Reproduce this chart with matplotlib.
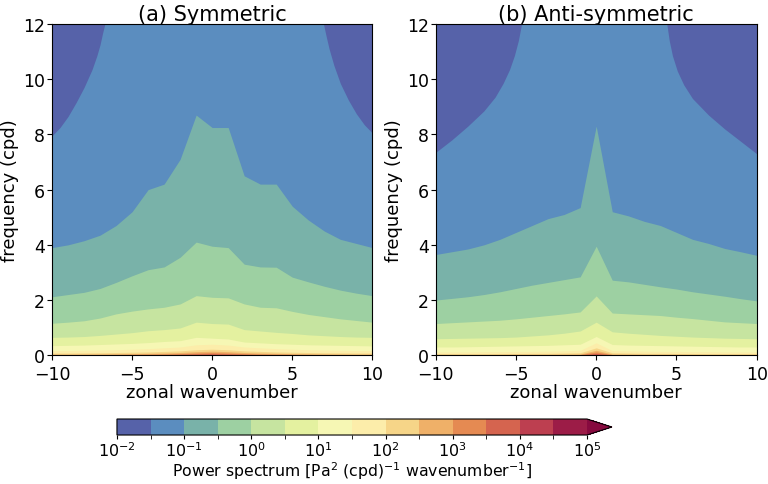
import numpy as np
import matplotlib
matplotlib.use('Agg')
import matplotlib.pyplot as plt
from matplotlib.colors import BoundaryNorm, ListedColormap
from matplotlib.cm import ScalarMappable

# contour levels: half decades from 1e-2 to 1e5
exponents = np.arange(-2, 5.01, 0.5)
levels = 10.0 ** exponents
wavenumber = np.arange(-10, 11)

# frequency (cpd) where the power crosses each level, read at integer wavenumbers
# (a) symmetric
sym_m10 = [3.9, 4.0, 4.15, 4.35, 4.7, 5.2, 6.0, 6.2, 7.1, 8.7, 8.25, 8.25, 6.5, 6.2, 6.2, 5.4, 4.9, 4.5, 4.2, 4.05, 3.9]
sym_m05 = [2.12, 2.2, 2.28, 2.42, 2.64, 2.88, 3.1, 3.2, 3.55, 4.1, 3.95, 3.9, 3.3, 3.2, 3.19, 2.83, 2.66, 2.5, 2.36, 2.25, 2.16]
sym_p00 = [1.16, 1.2, 1.25, 1.35, 1.5, 1.6, 1.68, 1.74, 1.86, 2.16, 2.1, 2.08, 1.86, 1.74, 1.72, 1.59, 1.48, 1.4, 1.32, 1.26, 1.2]
sym_p05 = [0.65, 0.66, 0.68, 0.72, 0.77, 0.82, 0.89, 0.93, 0.99, 1.2, 1.15, 1.13, 0.93, 0.88, 0.83, 0.79, 0.74, 0.71, 0.68, 0.66, 0.65]
sym_p10 = [0.35, 0.36, 0.37, 0.39, 0.41, 0.43, 0.46, 0.5, 0.53, 0.65, 0.62, 0.59, 0.48, 0.45, 0.42, 0.4, 0.38, 0.37, 0.36, 0.35, 0.34]
sym_p15 = [0.17, 0.17, 0.18, 0.19, 0.2, 0.22, 0.24, 0.27, 0.3, 0.38, 0.4, 0.37, 0.3, 0.27, 0.24, 0.22, 0.2, 0.19, 0.18, 0.17, 0.17]
sym_p20 = [0.08, 0.08, 0.085, 0.09, 0.1, 0.11, 0.12, 0.14, 0.16, 0.2, 0.22, 0.2, 0.16, 0.14, 0.12, 0.11, 0.1, 0.09, 0.085, 0.08, 0.08]
sym_p25 = [0.04, 0.04, 0.045, 0.05, 0.055, 0.06, 0.07, 0.08, 0.1, 0.13, 0.15, 0.13, 0.1, 0.08, 0.07, 0.06, 0.055, 0.05, 0.045, 0.04, 0.04]
sym_p30 = [0.02, 0.02, 0.02, 0.025, 0.03, 0.035, 0.04, 0.05, 0.06, 0.08, 0.1, 0.08, 0.06, 0.05, 0.04, 0.035, 0.03, 0.025, 0.02, 0.02, 0.02]
sym_p35 = [0, 0, 0, 0, 0.01, 0.015, 0.02, 0.025, 0.035, 0.05, 0.06, 0.05, 0.035, 0.025, 0.02, 0.015, 0.01, 0, 0, 0, 0]
sym_p40 = [0, 0, 0, 0, 0, 0, 0, 0, 0.01, 0.02, 0.03, 0.02, 0.01, 0, 0, 0, 0, 0, 0, 0, 0]
# 1e-1.5 contour in the top corners
sym_left_k = [-10, -9.5, -9, -8.5, -8, -7.5, -7.2, -7, -6.85, -6.7]
sym_left_f = [7.95, 8.25, 8.65, 9.15, 9.7, 10.35, 10.85, 11.25, 11.65, 12]
sym_right_k = [6.95, 7.1, 7.3, 7.6, 8.0, 8.5, 9.0, 9.5, 10]
sym_right_f = [12, 11.6, 11.1, 10.5, 9.85, 9.25, 8.75, 8.35, 8.05]

# (b) anti-symmetric
asy_m10 = [3.65, 3.75, 3.85, 4.0, 4.2, 4.45, 4.7, 4.95, 5.1, 5.35, 8.3, 5.2, 5.05, 4.85, 4.7, 4.45, 4.2, 4.05, 3.87, 3.75, 3.62]
asy_m05 = [2.0, 2.06, 2.12, 2.2, 2.3, 2.42, 2.54, 2.64, 2.74, 2.84, 3.95, 2.72, 2.66, 2.57, 2.48, 2.4, 2.3, 2.22, 2.14, 2.05, 1.97]
asy_p00 = [1.15, 1.18, 1.21, 1.24, 1.27, 1.32, 1.38, 1.44, 1.5, 1.57, 2.15, 1.53, 1.5, 1.47, 1.44, 1.38, 1.33, 1.27, 1.21, 1.18, 1.15]
asy_p05 = [0.6, 0.61, 0.62, 0.63, 0.64, 0.66, 0.7, 0.74, 0.8, 0.88, 1.2, 0.85, 0.8, 0.76, 0.72, 0.69, 0.66, 0.64, 0.62, 0.61, 0.6]
asy_p10 = [0.3, 0.3, 0.31, 0.32, 0.33, 0.34, 0.35, 0.36, 0.38, 0.4, 0.68, 0.39, 0.37, 0.36, 0.35, 0.34, 0.33, 0.32, 0.31, 0.3, 0.3]
asy_p15 = [0.12, 0.12, 0.12, 0.13, 0.13, 0.14, 0.14, 0.15, 0.16, 0.18, 0.45, 0.17, 0.16, 0.15, 0.14, 0.14, 0.13, 0.13, 0.12, 0.12, 0.12]
asy_p20 = [0.06, 0.06, 0.06, 0.06, 0.065, 0.065, 0.07, 0.07, 0.08, 0.09, 0.27, 0.09, 0.08, 0.07, 0.07, 0.065, 0.065, 0.06, 0.06, 0.06, 0.06]
asy_p25 = [0.03, 0.03, 0.03, 0.03, 0.03, 0.035, 0.035, 0.035, 0.04, 0.045, 0.18, 0.045, 0.04, 0.035, 0.035, 0.035, 0.03, 0.03, 0.03, 0.03, 0.03]
asy_p30 = [0.015, 0.015, 0.015, 0.015, 0.015, 0.015, 0.02, 0.02, 0.02, 0.025, 0.12, 0.025, 0.02, 0.02, 0.02, 0.015, 0.015, 0.015, 0.015, 0.015, 0.015]
asy_p35 = [0, 0, 0, 0, 0, 0, 0, 0, 0, 0.01, 0.07, 0.01, 0, 0, 0, 0, 0, 0, 0, 0, 0]
asy_p40 = [0, 0, 0, 0, 0, 0, 0, 0, 0, 0, 0.035, 0, 0, 0, 0, 0, 0, 0, 0, 0, 0]
asy_left_k = [-10, -9, -8, -7, -6.3, -5.8, -5.4, -5.1, -4.85, -4.65]
asy_left_f = [7.35, 7.8, 8.3, 8.85, 9.35, 9.85, 10.35, 10.85, 11.4, 12]
asy_right_k = [4.4, 4.55, 4.75, 5.05, 5.45, 6.0, 7, 8, 9, 10]
asy_right_f = [12, 11.4, 10.85, 10.3, 9.8, 9.3, 8.7, 8.2, 7.75, 7.3]

# band colours (Spectral_r look, as printed in the figure)
band_colors = ['#5662a9', '#5b8dbf', '#79b2a9', '#9dd0a2', '#c6e4a0', '#e4f1a0', '#f6f7b4',
               '#fcedaa', '#f6d588', '#efb068', '#e58a52', '#d5644f', '#bd3f50', '#9c1c47']
over_color = '#870a3f'

cmap = ListedColormap(band_colors)
cmap.set_over(over_color)
norm = BoundaryNorm(levels, ncolors=cmap.N, extend='neither')

fig = plt.figure(figsize=(7.68, 4.85), dpi=100)
ax1 = fig.add_axes([0.0677, 0.2654, 0.4171, 0.6831])
ax2 = fig.add_axes([0.5673, 0.2654, 0.4180, 0.6831])

panels = [
    (ax1, '(a) Symmetric',
     [sym_m10, sym_m05, sym_p00, sym_p05, sym_p10, sym_p15, sym_p20, sym_p25, sym_p30, sym_p35, sym_p40],
     (sym_left_k, sym_left_f), (sym_right_k, sym_right_f)),
    (ax2, '(b) Anti-symmetric',
     [asy_m10, asy_m05, asy_p00, asy_p05, asy_p10, asy_p15, asy_p20, asy_p25, asy_p30, asy_p35, asy_p40],
     (asy_left_k, asy_left_f), (asy_right_k, asy_right_f)),
]

for ax, title, bounds, left, right in panels:
    # background: 1e-1.5 .. 1e-1
    ax.set_facecolor(band_colors[1])
    # dark corners: 1e-2 .. 1e-1.5
    for kk, ff in (left, right):
        ax.fill_between(kk, ff, 12, color=band_colors[0], lw=0)
    # remaining bands, each level painted over the previous one
    for j, fb in enumerate(bounds):
        ax.fill_between(wavenumber, 0, fb, color=band_colors[j + 2], lw=0)
    ax.set_xlim(-10, 10)
    ax.set_ylim(0, 12)
    ax.set_xticks([-10, -5, 0, 5, 10])
    ax.set_yticks([0, 2, 4, 6, 8, 10, 12])
    ax.tick_params(labelsize=12.5, length=3.5)
    ax.tick_params(axis='y', pad=1.5)
    ax.tick_params(axis='x', pad=3.5)
    ax.set_xlabel('zonal wavenumber', fontsize=13, labelpad=0)
    ax.set_ylabel('frequency (cpd)', fontsize=13, labelpad=3)
    ax.set_title(title, fontsize=15, pad=3)

cax = fig.add_axes([0.1523, 0.101, 0.6445, 0.033])
sm = ScalarMappable(norm=norm, cmap=cmap)
cbar = fig.colorbar(sm, cax=cax, orientation='horizontal', extend='max',
                    extendfrac=0.053, boundaries=levels)
major = 10.0 ** np.arange(-2, 6)
cbar.set_ticks(major)
cbar.set_ticklabels(['$10^{%d}$' % e for e in range(-2, 6)])
cbar.ax.set_xticks(10.0 ** np.arange(-1.5, 5, 1.0), minor=True)
cbar.ax.tick_params(labelsize=11.5, length=3, pad=1)
cbar.ax.tick_params(which='minor', length=3)
cbar.set_label('Power spectrum [Pa$^2$ (cpd)$^{-1}$ wavenumber$^{-1}$]', fontsize=11.3, labelpad=0)

fig.savefig('out.png', dpi=100)
